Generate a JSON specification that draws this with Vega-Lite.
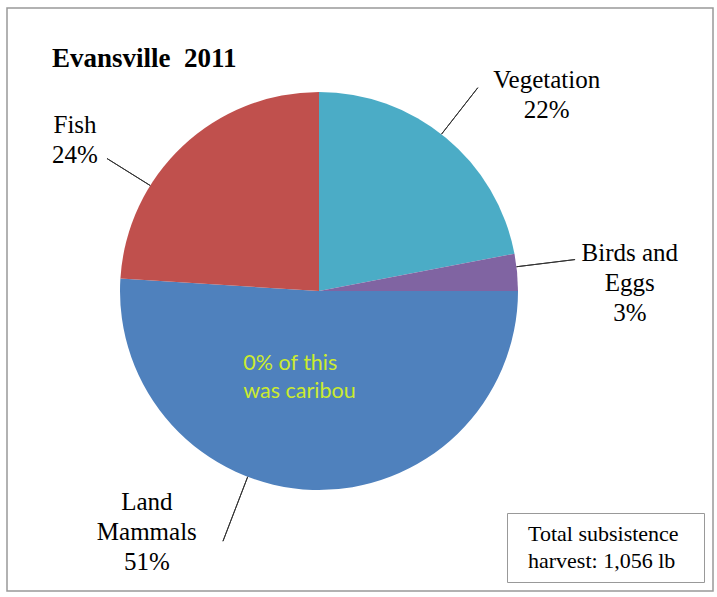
{
  "$schema": "https://vega.github.io/schema/vega-lite/v6.json",
  "width": 706,
  "height": 583,
  "autosize": {"type": "none"},
  "padding": {"left": 7, "top": 8, "right": 4, "bottom": 6},
  "background": "white",
  "view": {"stroke": "#999999", "strokeWidth": 1.5},
  "config": {"view": {"stroke": "#999999", "strokeWidth": 1.5}},
  "title": {
    "text": "Evansville\u00a0 2011",
    "orient": "none",
    "anchor": "start",
    "frame": "group",
    "align": "left",
    "font": "Liberation Serif",
    "fontSize": 27,
    "fontWeight": "bold",
    "color": "#000000",
    "offset": 0,
    "baseline": "alphabetic",
    "dx": 45,
    "dy": 59
  },
  "datasets": {
    "harvest": [
      {"category": "Vegetation", "share": 22, "order": 1, "label": "Vegetation\n22%"},
      {"category": "Birds and Eggs", "share": 3, "order": 2, "label": "Birds and\nEggs\n3%"},
      {"category": "Land Mammals", "share": 51, "order": 3, "label": "Land\nMammals\n51%"},
      {"category": "Fish", "share": 24, "order": 4, "label": "Fish\n24%"}
    ],
    "note": [
      {"line": "Total subsistence"},
      {"line": "harvest: 1,056 lb"}
    ]
  },
  "layer": [
    {
      "data": {"name": "harvest"},
      "transform": [
        {"stack": "share", "groupby": [], "sort": [{"field": "order", "order": "ascending"}], "as": ["s0", "s1"]}
      ],
      "layer": [
        {
          "mark": {"type": "arc", "outerRadius": 199, "xOffset": -41, "yOffset": -8.5},
          "encoding": {
            "theta": {"field": "s0", "type": "quantitative", "scale": {"domain": [0, 100], "range": [0, 6.283185307179586]}},
            "theta2": {"field": "s1"},
            "color": {
              "field": "category",
              "type": "nominal",
              "scale": {
                "domain": ["Vegetation", "Birds and Eggs", "Land Mammals", "Fish"],
                "range": ["#4BACC6", "#8064A2", "#4F81BD", "#C0504D"]
              },
              "legend": null
            }
          }
        },
        {
          "transform": [{"filter": "datum.category === 'Vegetation'"}],
          "layer": [
            {
              "mark": {"type": "arc", "innerRadius": 199, "outerRadius": 258, "thetaOffset": 0.6632, "theta2Offset": 0.6632, "fillOpacity": 0, "stroke": "#333333", "strokeWidth": 1, "xOffset": -41, "yOffset": -8.5},
              "encoding": {
                "theta": {"field": "s0", "type": "quantitative", "scale": {"domain": [0, 100], "range": [0, 6.283185307179586]}},
                "theta2": {"field": "s0"}
              }
            },
            {
              "mark": {"type": "text", "radius": 260, "thetaOffset": 0.6912, "dx": 62, "dy": -11, "xOffset": -41, "yOffset": -8.5, "align": "center", "baseline": "middle", "lineBreak": "\n", "lineHeight": 30, "font": "Liberation Serif", "fontSize": 25, "color": "#000000"},
              "encoding": {
                "theta": {"field": "s0", "type": "quantitative", "scale": {"domain": [0, 100], "range": [0, 6.283185307179586]}},
                "text": {"field": "label"}
              }
            }
          ]
        },
        {
          "transform": [{"filter": "datum.category === 'Birds and Eggs'"}],
          "layer": [
            {
              "mark": {"type": "arc", "innerRadius": 199, "outerRadius": 258, "thetaOffset": 0.0663, "theta2Offset": 0.0663, "fillOpacity": 0, "stroke": "#333333", "strokeWidth": 1, "xOffset": -41, "yOffset": -8.5},
              "encoding": {
                "theta": {"field": "s0", "type": "quantitative", "scale": {"domain": [0, 100], "range": [0, 6.283185307179586]}},
                "theta2": {"field": "s0"}
              }
            },
            {
              "mark": {"type": "text", "radius": 260, "thetaOffset": 0.0942, "dx": 52, "dy": -14, "xOffset": -41, "yOffset": -8.5, "align": "center", "baseline": "middle", "lineBreak": "\n", "lineHeight": 30, "font": "Liberation Serif", "fontSize": 25, "color": "#000000"},
              "encoding": {
                "theta": {"field": "s0", "type": "quantitative", "scale": {"domain": [0, 100], "range": [0, 6.283185307179586]}},
                "text": {"field": "label"}
              }
            }
          ]
        },
        {
          "transform": [{"filter": "datum.category === 'Land Mammals'"}],
          "layer": [
            {
              "mark": {"type": "arc", "innerRadius": 199, "outerRadius": 268, "thetaOffset": 1.9373, "theta2Offset": 1.9373, "fillOpacity": 0, "stroke": "#333333", "strokeWidth": 1, "xOffset": -41, "yOffset": -8.5},
              "encoding": {
                "theta": {"field": "s0", "type": "quantitative", "scale": {"domain": [0, 100], "range": [0, 6.283185307179586]}},
                "theta2": {"field": "s0"}
              }
            },
            {
              "mark": {"type": "text", "radius": 260, "thetaOffset": 1.6022, "dx": -164, "dy": -49, "xOffset": -41, "yOffset": -8.5, "align": "center", "baseline": "middle", "lineBreak": "\n", "lineHeight": 30, "font": "Liberation Serif", "fontSize": 25, "color": "#000000"},
              "encoding": {
                "theta": {"field": "s0", "type": "quantitative", "scale": {"domain": [0, 100], "range": [0, 6.283185307179586]}},
                "text": {"field": "label"}
              }
            },
            {
              "mark": {"type": "text", "text": "0% of this\nwas caribou", "radius": 85, "thetaOffset": 1.6022, "dx": -73, "dy": -12, "xOffset": -41, "yOffset": -8.5, "align": "left", "baseline": "middle", "lineBreak": "\n", "lineHeight": 28, "font": "Lato", "fontSize": 21.5, "color": "#CCEB2E"},
              "encoding": {
                "theta": {"field": "s0", "type": "quantitative", "scale": {"domain": [0, 100], "range": [0, 6.283185307179586]}}
              }
            }
          ]
        },
        {
          "transform": [{"filter": "datum.category === 'Fish'"}],
          "layer": [
            {
              "mark": {"type": "arc", "innerRadius": 199, "outerRadius": 250, "thetaOffset": 0.4957, "theta2Offset": 0.4957, "fillOpacity": 0, "stroke": "#333333", "strokeWidth": 1, "xOffset": -41, "yOffset": -8.5},
              "encoding": {
                "theta": {"field": "s0", "type": "quantitative", "scale": {"domain": [0, 100], "range": [0, 6.283185307179586]}},
                "theta2": {"field": "s0"}
              }
            },
            {
              "mark": {"type": "text", "radius": 260, "thetaOffset": 0.754, "dx": -66, "dy": 24, "xOffset": -41, "yOffset": -8.5, "align": "center", "baseline": "middle", "lineBreak": "\n", "lineHeight": 30, "font": "Liberation Serif", "fontSize": 25, "color": "#000000"},
              "encoding": {
                "theta": {"field": "s0", "type": "quantitative", "scale": {"domain": [0, 100], "range": [0, 6.283185307179586]}},
                "text": {"field": "label"}
              }
            }
          ]
        }
      ]
    },
    {
      "data": {"name": "note"},
      "mark": {"type": "point", "opacity": 0},
      "encoding": {
        "shape": {
          "field": "line",
          "type": "nominal",
          "scale": {"domain": ["Total subsistence", "harvest: 1,056 lb"]},
          "legend": {
            "title": "\u00a0",
            "titleOrient": "right",
            "titlePadding": 15,
            "titleFontSize": 10,
            "orient": "bottom-right",
            "offset": 9,
            "strokeColor": "#999999",
            "fillColor": "white",
            "padding": 10,
            "labelFont": "Liberation Serif",
            "labelFontSize": 22,
            "labelColor": "#000000",
            "labelOffset": -11,
            "labelLimit": 0,
            "symbolSize": 0,
            "symbolOpacity": 0,
            "symbolStrokeWidth": 0,
            "rowPadding": 5
          }
        }
      }
    }
  ]
}
